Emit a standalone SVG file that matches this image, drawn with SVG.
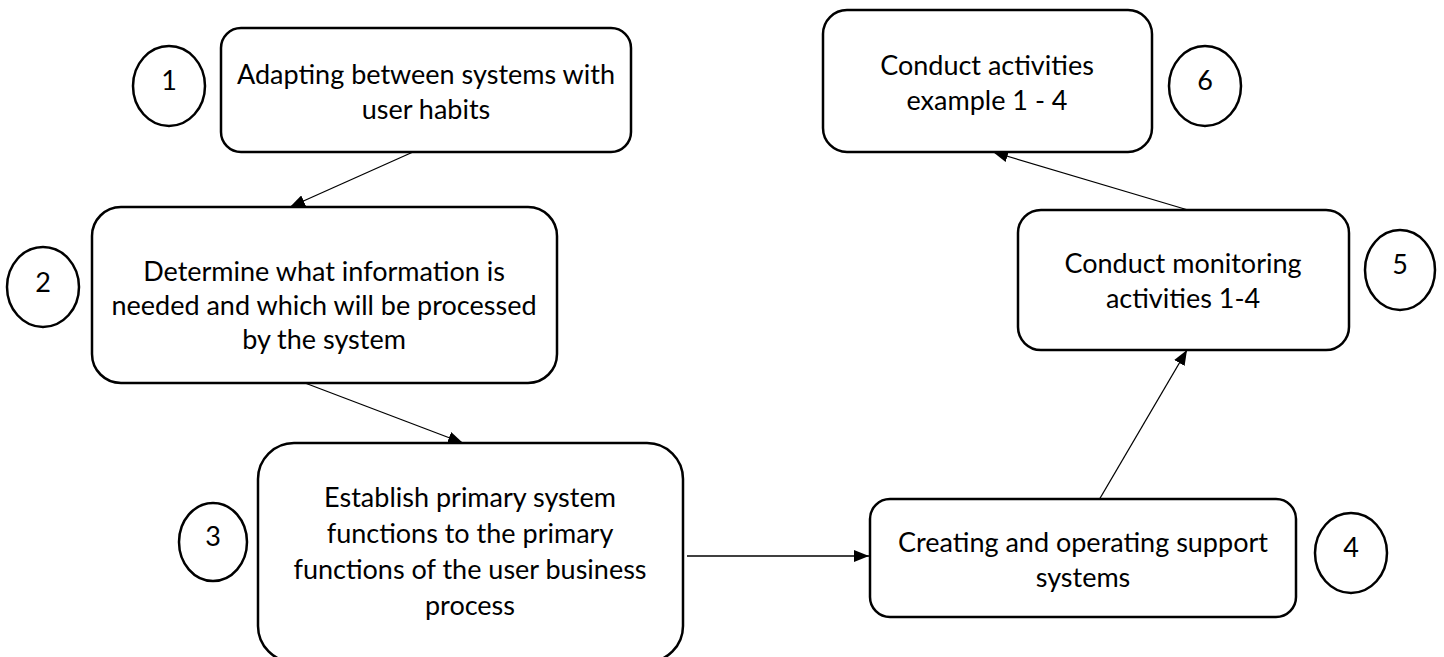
<svg xmlns="http://www.w3.org/2000/svg" width="1444" height="657" viewBox="0 0 1444 657">
  <defs>
    <marker id="arrow" viewBox="0 0 15 12" refX="15" refY="6" markerWidth="15" markerHeight="12" markerUnits="userSpaceOnUse" orient="auto">
      <path d="M0,0 L15,6 L0,12 Z" fill="#000"/>
    </marker>
    <style>
      .box { fill: #fff; stroke: #000; stroke-width: 2.5; }
      .badge { fill: #fff; stroke: #000; stroke-width: 2.5; }
      .label { font-family: Lato, "Open Sans", "Liberation Sans", sans-serif; font-size: 27px; fill: #000; text-anchor: middle; }
      .num { font-family: Lato, "Open Sans", "Liberation Sans", sans-serif; font-size: 27px; fill: #000; text-anchor: middle; }
      .link { fill: none; stroke: #000; stroke-width: 1.3; marker-end: url(#arrow); }
    </style>
  </defs>
  <rect width="1444" height="657" fill="#fff"/>

  <!-- flow connectors -->
  <g id="connectors">
    <line class="link" x1="413" y1="152" x2="290" y2="207"/>
    <line class="link" x1="305" y1="383" x2="463" y2="443"/>
    <line class="link" x1="687" y1="556" x2="869" y2="556"/>
    <line class="link" x1="1099" y1="500" x2="1187" y2="350"/>
    <line class="link" x1="1188" y1="210" x2="993" y2="152"/>
  </g>

  <!-- step 1 -->
  <g id="step1">
    <rect class="box" x="221" y="28" width="410" height="124" rx="20" ry="20"/>
    <text class="label" x="426" y="84">Adapting between systems with</text>
    <text class="label" x="426" y="119">user habits</text>
  </g>
  <g id="badge1">
    <ellipse class="badge" cx="169" cy="86" rx="36" ry="40"/>
    <text class="num" x="169" y="90">1</text>
  </g>

  <!-- step 2 -->
  <g id="step2">
    <rect class="box" x="92" y="207" width="465" height="176" rx="29" ry="29"/>
    <text class="label" x="324" y="281">Determine what information is</text>
    <text class="label" x="324" y="315">needed and which will be processed</text>
    <text class="label" x="324" y="349">by the system</text>
  </g>
  <g id="badge2">
    <ellipse class="badge" cx="43" cy="287" rx="36" ry="40"/>
    <text class="num" x="43" y="292">2</text>
  </g>

  <!-- step 3 -->
  <g id="step3">
    <rect class="box" x="258" y="443" width="425" height="219" rx="36" ry="36"/>
    <text class="label" x="470" y="507">Establish primary system</text>
    <text class="label" x="470" y="543">functions to the primary</text>
    <text class="label" x="470" y="579">functions of the user business</text>
    <text class="label" x="470" y="615">process</text>
  </g>
  <g id="badge3">
    <ellipse class="badge" cx="213" cy="542" rx="34" ry="39"/>
    <text class="num" x="213" y="546">3</text>
  </g>

  <!-- step 4 -->
  <g id="step4">
    <rect class="box" x="870" y="499" width="426" height="118" rx="20" ry="20"/>
    <text class="label" x="1083" y="552">Creating and operating support</text>
    <text class="label" x="1083" y="587">systems</text>
  </g>
  <g id="badge4">
    <ellipse class="badge" cx="1351" cy="553" rx="36" ry="40"/>
    <text class="num" x="1351" y="557">4</text>
  </g>

  <!-- step 5 -->
  <g id="step5">
    <rect class="box" x="1018" y="210" width="331" height="140" rx="23" ry="23"/>
    <text class="label" x="1183" y="273">Conduct monitoring</text>
    <text class="label" x="1183" y="308">activities 1-4</text>
  </g>
  <g id="badge5">
    <ellipse class="badge" cx="1400" cy="270" rx="35" ry="40"/>
    <text class="num" x="1400" y="274">5</text>
  </g>

  <!-- step 6 -->
  <g id="step6">
    <rect class="box" x="823" y="10" width="329" height="142" rx="24" ry="24"/>
    <text class="label" x="987" y="75">Conduct activities</text>
    <text class="label" x="987" y="110">example 1 - 4</text>
  </g>
  <g id="badge6">
    <ellipse class="badge" cx="1205" cy="86" rx="36" ry="40"/>
    <text class="num" x="1205" y="90">6</text>
  </g>
</svg>
